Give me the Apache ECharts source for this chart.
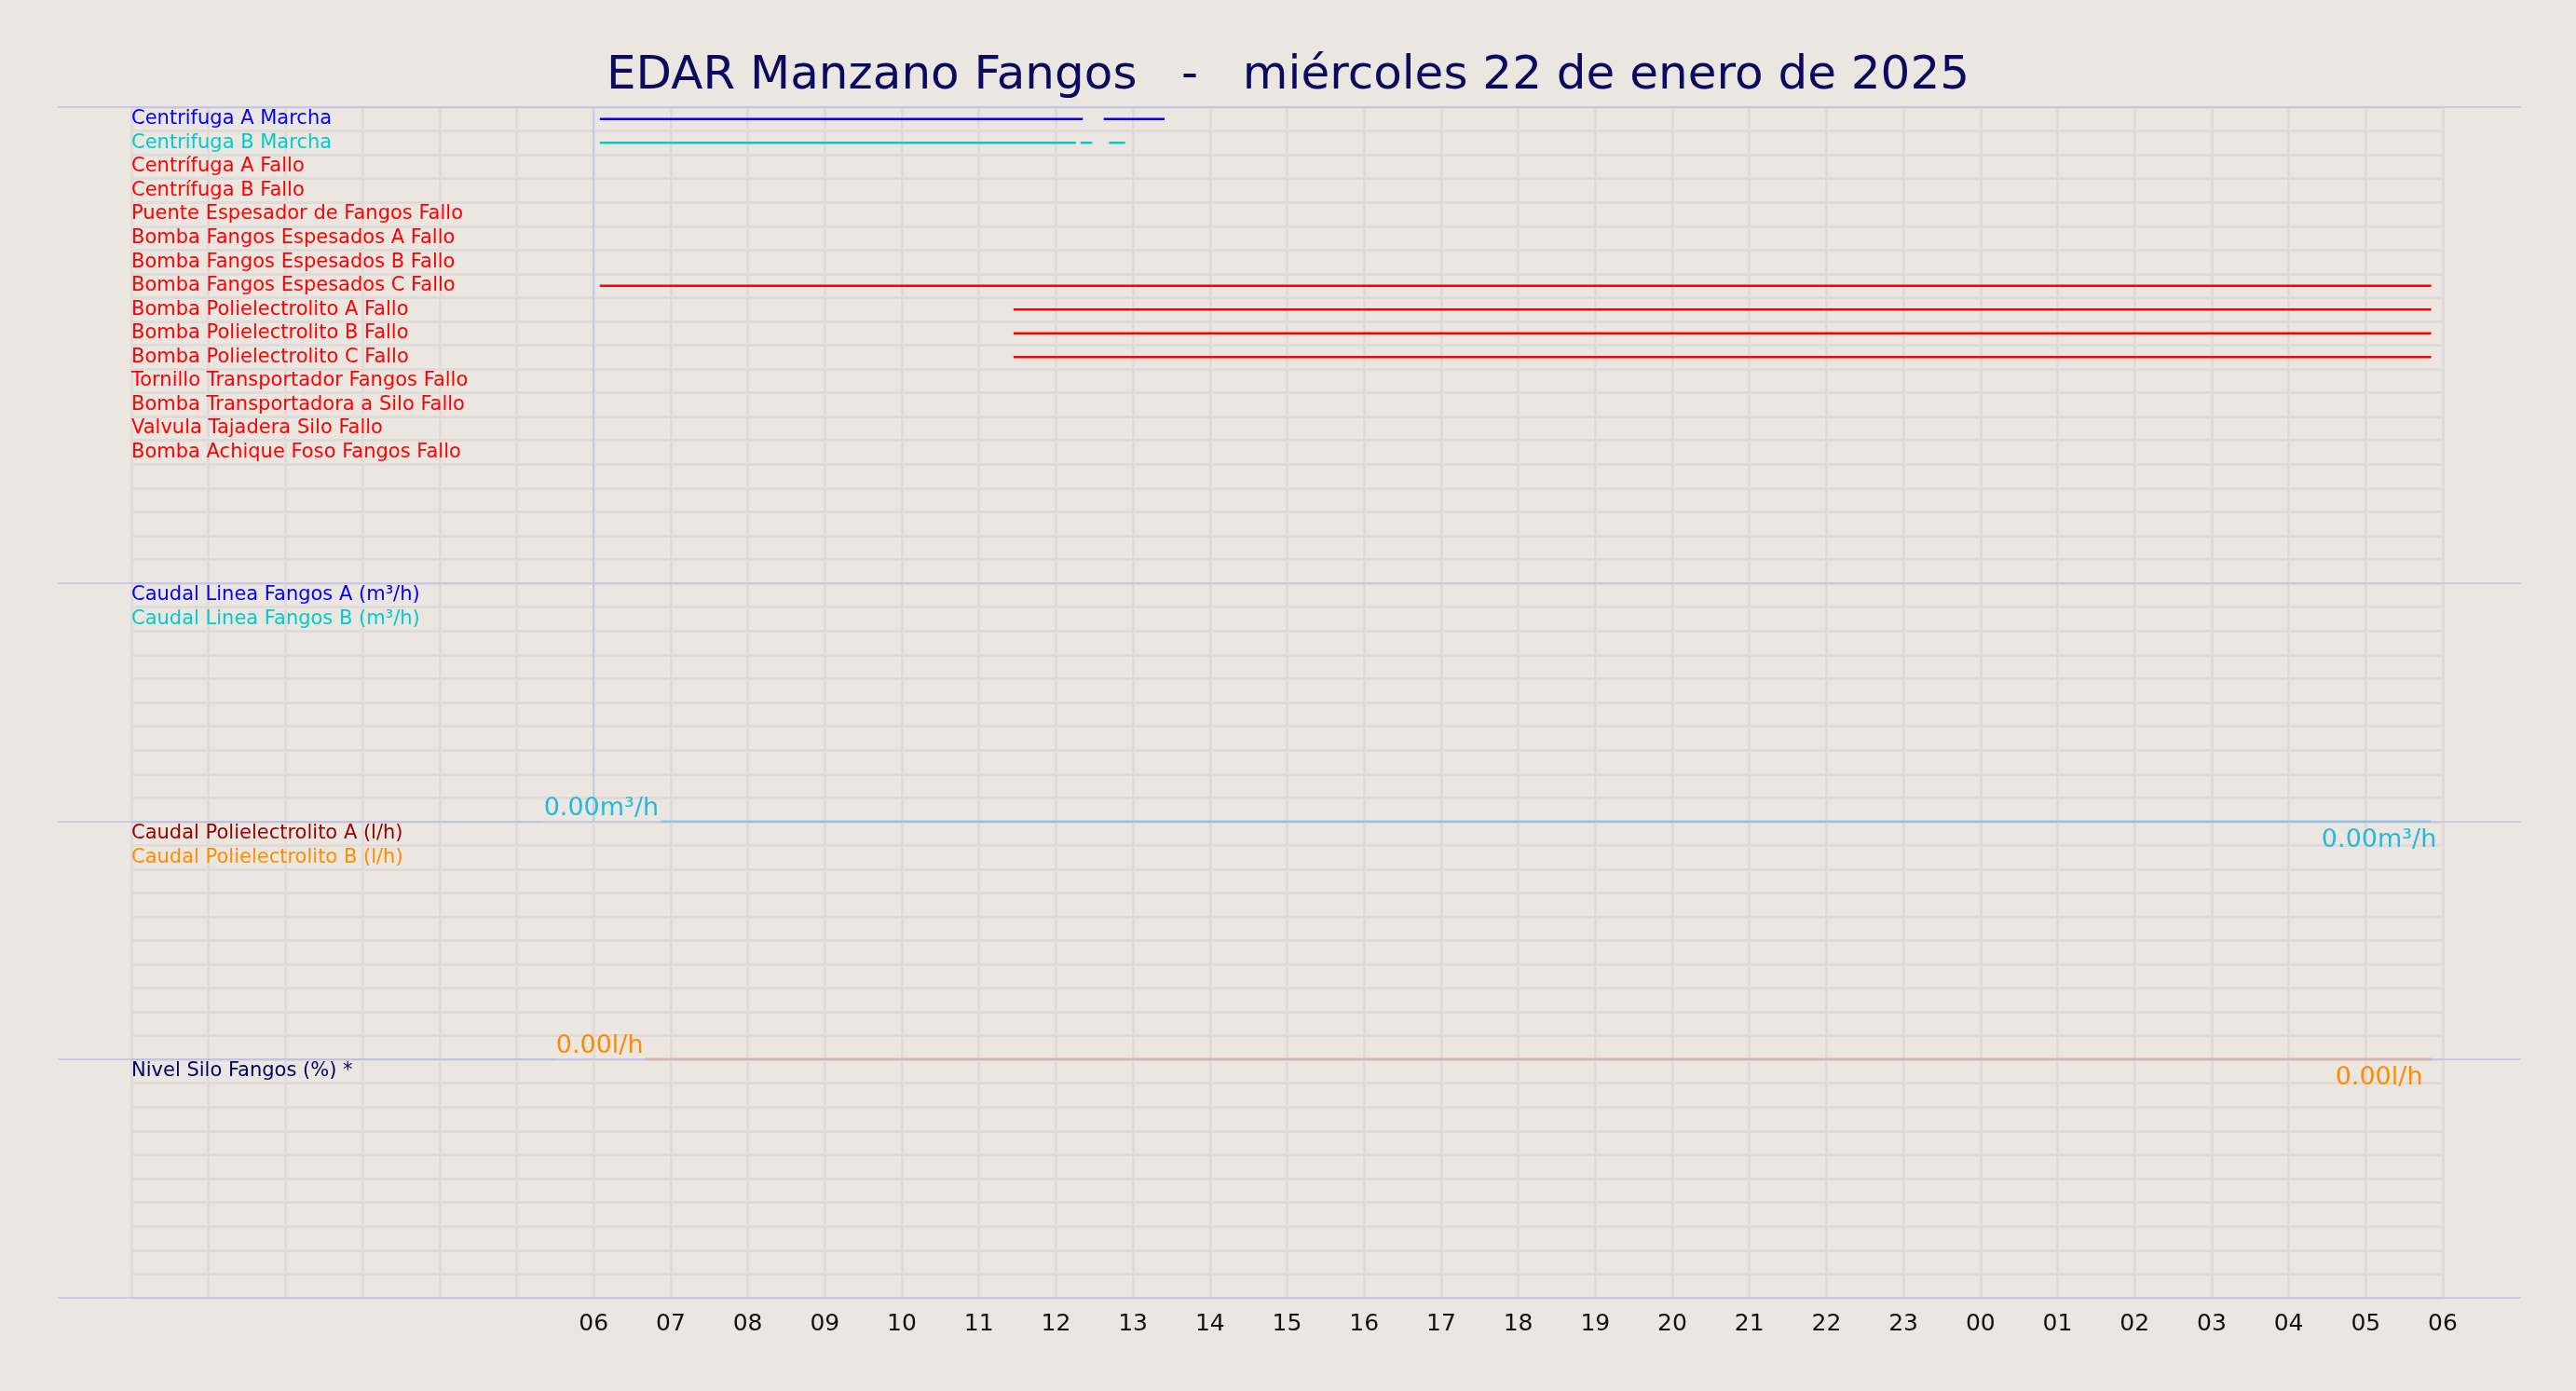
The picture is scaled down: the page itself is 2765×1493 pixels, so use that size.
<!DOCTYPE html>
<html>
<head>
<meta charset="UTF-8">
<script src="https://cdn.jsdelivr.net/npm/echarts@6/dist/echarts.min.js"></script>
<style>html,body{margin:0;background:#ebe6e0}</style>
</head>
<body>
<div id="main" style="width:2765px;height:1493px"></div>
<script>
// horas desde las 00:00 del 22 de enero
var senales = ['Centrifuga A Marcha','Centrifuga B Marcha','Centrífuga A Fallo','Centrífuga B Fallo',
  'Puente Espesador de Fangos Fallo','Bomba Fangos Espesados A Fallo','Bomba Fangos Espesados B Fallo',
  'Bomba Fangos Espesados C Fallo','Bomba Polielectrolito A Fallo','Bomba Polielectrolito B Fallo',
  'Bomba Polielectrolito C Fallo','Tornillo Transportador Fangos Fallo','Bomba Transportadora a Silo Fallo',
  'Valvula Tajadera Silo Fallo','Bomba Achique Foso Fangos Fallo'];
var coloresSenal = ['#0000ff','#00cccc','#ff0000','#ff0000','#ff0000','#ff0000','#ff0000','#ff0000',
  '#ff0000','#ff0000','#ff0000','#ff0000','#ff0000','#ff0000','#ff0000'];
// tramos activos [inicio, fin] en horas
var tramos = [
  [[6.08,12.35],[12.62,13.41]],
  [[6.08,12.26],[12.32,12.47],[12.69,12.9]],
  [],[],[],[],[],
  [[6.08,29.85]],
  [[11.45,29.85]],[[11.45,29.85]],[[11.45,29.85]],
  [],[],[],[]
];
var caudalFangos = ['Caudal Linea Fangos A (m³/h)','Caudal Linea Fangos B (m³/h)'];
var caudalPoli = ['Caudal Polielectrolito A (l/h)','Caudal Polielectrolito B (l/h)'];
var nivelSilo = ['Nivel Silo Fangos (%) *'];
var fangosB = [[6.87,0],[29.85,0]];
var poliB = [[6.67,0],[29.85,0]];

var chart = echarts.init(document.getElementById('main'));
var L = 141, R = 143;
var panels = [[115,626,20],[626,882,10],[882,1137,10],[1137,1393,10]];
var labelSets = [senales, caudalFangos, caudalPoli, nivelSilo];
var labelColors = [coloresSenal, ['#0000ff','#00cccc'], ['#990000','#ff8c00'], ['#000066']];

var grids = [], xAxes = [], yAxes = [], series = [];
panels.forEach(function (p, i) {
  grids.push({left: L, right: R, top: p[0], height: p[1] - p[0]});
  xAxes.push({type: 'value', gridIndex: i, min: 0, max: 30, interval: 1,
    axisLine: {show: false}, axisTick: {show: false},
    splitLine: {show: true, lineStyle: {color: '#e0dbd8', width: 3}},
    axisLabel: {show: i === 3, fontSize: 25, color: '#111', margin: 16, fontFamily: 'DejaVu Sans',
      formatter: function (v) { return v < 6 ? '' : String(v % 24).padStart(2, '0'); }}});
  var cats = [];
  for (var k = 0; k < p[2]; k++) {
    var name = labelSets[i][k] || '';
    cats.push({value: name || (' ' + k), textStyle: {color: labelColors[i][k] || '#000'}});
  }
  yAxes.push({type: 'category', gridIndex: i, inverse: true, data: cats,
    axisLine: {show: false}, axisTick: {show: false},
    splitLine: {show: true, interval: 0, lineStyle: {color: '#e0dbd8', width: 3}},
    axisLabel: {inside: true, interval: 0, fontSize: 21, fontFamily: 'DejaVu Sans', margin: 0,
      padding: [10, 0, 0, 0],
      formatter: function (v) { return v.charAt(0) === ' ' ? '' : v; }}});
  yAxes.push({type: 'value', gridIndex: i, min: 0, max: 1, show: false});
});

// señales digitales
tramos.forEach(function (ts, r) {
  var d = [];
  ts.forEach(function (t) { d.push([t[0], senales[r]], [t[1], senales[r]], null); });
  series.push({type: 'line', xAxisIndex: 0, yAxisIndex: 0, data: d, symbol: 'none', silent: true,
    lineStyle: {color: coloresSenal[r], width: 2.5}, connectNulls: false});
});

function flujo(idx, data, color, txt, grey) {
  series.push({type: 'line', xAxisIndex: idx, yAxisIndex: idx * 2 + 1, symbol: 'none',
    data: [[0, 0], [grey, 0]], lineStyle: {color: '#c8c8d4', width: 2}, silent: true});
  series.push({type: 'line', xAxisIndex: idx, yAxisIndex: idx * 2 + 1, symbol: 'circle', symbolSize: 0.1,
    showSymbol: true, lineStyle: {color: color, width: 2.5}, silent: true, z: 5,
    data: [
      {value: data[0], label: {show: true, position: 'left', distance: 2, offset: [0, -14], formatter: txt, color: color, fontSize: 27, fontFamily: 'DejaVu Sans'}},
      {value: data[1], label: {show: true, position: 'bottom', distance: 6, offset: [-56, 0], formatter: txt, color: color, fontSize: 27, fontFamily: 'DejaVu Sans'}}
    ]});
}
flujo(1, fangosB, '#22bbdd', '0.00m³/h', 5.3);
flujo(2, poliB, '#ff8c00', '0.00l/h', 5.5);

// línea de las 06
series.push({type: 'line', xAxisIndex: 0, yAxisIndex: 1, data: [], markLine: {symbol: 'none', silent: true,
  label: {show: false}, lineStyle: {color: '#c8c8ee', width: 2, type: 'solid'}, data: [{xAxis: 6}]}});
series.push({type: 'line', xAxisIndex: 1, yAxisIndex: 3, data: [], markLine: {symbol: 'none', silent: true,
  label: {show: false}, lineStyle: {color: '#c8c8ee', width: 2, type: 'solid'}, data: [{xAxis: 6}]}});

var bordes = [115, 626, 882, 1137, 1393].map(function (y) {
  return {type: 'line', z: 100, silent: true, shape: {x1: 62, y1: y, x2: 2706, y2: y}, style: {stroke: '#c0c0f0', lineWidth: 1.5}};
});

chart.setOption({
  backgroundColor: '#ebe6e0',
  animation: false,
  title: {text: 'EDAR Manzano Fangos   -   miércoles 22 de enero de 2025', left: 'center', top: 52,
    textStyle: {fontSize: 50, fontWeight: 'normal', color: '#0a0a60', fontFamily: 'DejaVu Sans'}},
  grid: grids, xAxis: xAxes, yAxis: yAxes, series: series,
  graphic: bordes
});
</script>
</body>
</html>
